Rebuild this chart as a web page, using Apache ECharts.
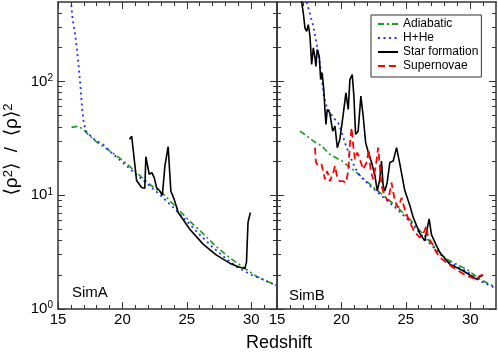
<!DOCTYPE html>
<html>
<head>
<meta charset="utf-8">
<script src="https://cdn.jsdelivr.net/npm/echarts@6/dist/echarts.min.js"></script>
<style>
  html, body { margin: 0; padding: 0; background: #fff; }
  #chart { width: 498px; height: 354px; }
</style>
</head>
<body>
<div id="chart"></div>
<script>
// axis ranges and ticks
const xMin = 15, xMax = 32
const yMin = 1, yMax = 500
const xMajor = [15, 20, 25, 30]
const xMinor = [16, 17, 18, 19, 21, 22, 23, 24, 26, 27, 28, 29, 31]
const yMajor = [1, 10, 100]
const yMinor = [2, 3, 4, 5, 6, 7, 8, 9, 20, 30, 40, 50, 60, 70, 80, 90, 200, 300, 400]

// SimA
const adiaAz = [16.05, 16.6, 17.1, 17.35, 18.0, 19.0, 20.1, 21.1, 22.1, 23.2, 24.2, 25.2, 26.3, 27.3, 28.3, 29.4, 30.4, 31.0, 32.0]
const adiaAv = [39.5, 40.5, 36.6, 34.2, 29.4, 24.6, 20.0, 15.8, 12.5, 10.2, 7.8, 5.95, 4.55, 3.52, 2.84, 2.32, 1.94, 1.8, 1.6]
const hheAz = [16.03, 16.14, 16.32, 16.5, 16.65, 16.76, 16.88, 17.0, 17.17, 17.6, 18.0, 18.5, 19.0, 20.0, 21.0, 22.0, 23.0, 24.0, 25.0, 26.0, 27.0, 28.0, 29.0, 30.0, 31.0, 32.0]
const hheAv = [470, 350, 267, 179, 119, 85, 56.8, 43.4, 36.6, 32.5, 30, 28, 24.5, 19.5, 15.5, 12.4, 9.9, 7.7, 5.9, 4.5, 3.5, 2.8, 2.3, 2.0, 1.8, 1.6]
const starAz = [20.55, 20.72, 21.1, 21.49, 21.74, 21.82, 22.08, 22.29, 22.47, 22.65, 22.9, 23.1, 23.3, 23.55, 23.76, 24.02, 24.33, 25.23, 26.26, 27.3, 28.33, 28.98, 29.5, 29.63, 29.75, 29.93]
const starAv = [31, 33, 13.5, 11.7, 11.5, 21.8, 15.3, 15.8, 14.3, 11.7, 10.9, 10, 18.1, 26.7, 10.9, 9.2, 7.05, 5.03, 3.72, 2.98, 2.53, 2.35, 2.27, 2.57, 5.76, 7.05]

// SimB
const adiaBz = [16.78, 17.2, 17.81, 18.47, 19.1, 20.1, 21.18, 22.21, 23.24, 24.28, 25.31, 26.34, 27.38, 28.15, 29.7, 30.74, 32.0]
const adiaBv = [36.6, 34, 30, 27.1, 22.9, 19.8, 15.8, 12.5, 10, 7.95, 6.16, 4.55, 3.36, 2.75, 2.24, 1.83, 1.55]
const hheBz = [17.3, 17.82, 18.2, 18.46, 18.64, 18.85, 19.37, 19.75, 20.0, 20.27, 20.66, 21.05, 21.43, 22.2, 23.2, 24.3, 25.3, 26.3, 27.4, 28.2, 29.7, 30.7, 32.0]
const hheBv = [500, 306, 179, 112, 74, 60.7, 48, 43.4, 36.6, 29, 22.2, 17.5, 14.8, 12.2, 9.7, 7.6, 5.9, 4.35, 3.25, 2.65, 2.15, 1.78, 1.52]
const starBz = [16.85, 17.04, 17.17, 17.3, 17.43, 17.56, 17.69, 17.82, 17.95, 18.02, 18.12, 18.28, 18.39, 18.51, 18.64, 18.72, 18.8, 18.9, 19.1, 19.32, 19.5, 19.68, 19.88, 20.14, 20.35, 20.53, 20.66, 20.84, 20.97, 21.1, 21.3, 21.51, 21.69, 21.88, 22.08, 22.34, 22.6, 22.78, 22.98, 23.11, 23.24, 23.37, 23.55, 23.76, 24.02, 24.28, 24.53, 24.92, 25.3, 25.57, 26.09, 26.47, 26.6, 26.81, 26.99, 27.38, 27.64, 28.41, 29.44, 30.48, 30.68, 30.99]
const starBv = [560, 401, 296, 276, 316, 250, 141, 198, 161, 136, 191, 167, 104, 119, 82, 56.8, 42, 56.8, 53, 36.6, 40.5, 26.2, 31, 51.4, 79.6, 56.8, 104, 115, 74.3, 34.3, 36.6, 74.3, 49.6, 29, 24, 19.4, 15, 10.9, 13.8, 20, 12.1, 10.9, 12.9, 19.4, 20, 26.2, 19, 11, 8.2, 6.4, 4.6, 3.97, 3.85, 6.2, 4.5, 3.6, 3.14, 2.48, 2.17, 1.83, 1.9, 1.99]
const snBz = [17.95, 18.02, 18.2, 18.46, 18.72, 18.9, 19.1, 19.37, 19.5, 19.68, 19.88, 20.14, 20.35, 20.53, 20.66, 20.79, 20.92, 21.05, 21.23, 21.43, 21.69, 21.95, 22.13, 22.26, 22.46, 22.67, 22.85, 22.98, 23.11, 23.37, 23.63, 23.89, 24.15, 24.41, 24.67, 24.92, 25.31, 25.7, 26.09, 26.34, 26.6, 26.73, 26.99, 27.38, 27.64, 28.67, 29.7, 30.48, 30.74, 30.99]
const snBv = [26.2, 19.4, 18.1, 18.7, 13.8, 16.3, 13.3, 15.8, 18.1, 14.3, 13.3, 13.3, 12.9, 16.3, 28, 39.2, 27.1, 20.7, 23.7, 20.7, 16.9, 19.4, 25.3, 16.9, 13.8, 18.1, 26.2, 18.1, 12.1, 9.8, 8.9, 12.9, 8.9, 7.8, 9.5, 7.5, 5.76, 4.71, 4.25, 4.55, 5.38, 4.25, 3.85, 3.14, 2.84, 2.32, 1.96, 1.83, 1.96, 2.0]

const names = ['Adiabatic', 'H+He', 'Star formation', 'Supernovae']
const FONT = '"Liberation Sans", Arial, "DejaVu Sans", sans-serif'
const frame = '#333'

const zip = (a, b) => a.map((v, i) => [v, b[i]])

const styles = {
  'Adiabatic': { color: '#1a9a1a', type: [6, 3, 2, 3], width: 1.6 },
  'H+He': { color: '#2233ff', type: [2, 3.5], width: 1.8 },
  'Star formation': { color: '#000000', type: 'solid', width: 1.6 },
  'Supernovae': { color: '#ff0000', type: [7, 4], width: 1.8 }
}

const pow10Label = (v) => {
  const e = Math.round(Math.log10(v))
  if (Math.abs(Math.pow(10, e) - v) > 1e-6) return ''
  return '{b|10}{s|' + e + '}'
}

const chart = echarts.init(document.getElementById('chart'))

const grids = [
  { left: 58, top: 2, width: 219, height: 307, outerBoundsMode: 'none' },
  { left: 277, top: 2, width: 219, height: 307, outerBoundsMode: 'none' }
]

const xAxes = []
const yAxes = []
grids.forEach((g, gi) => {
  ;['bottom', 'top'].forEach(pos => {
    xAxes.push({
      gridIndex: gi, type: 'value', min: xMin, max: xMax, position: pos,
      axisLine: { show: true, onZero: false, lineStyle: { color: frame, width: 1.5 } },
      axisTick: { show: true, inside: true, length: 7, customValues: xMajor, lineStyle: { color: frame, width: 1 } },
      axisLabel: {
        show: pos === 'bottom', customValues: xMajor, margin: 3,
        color: '#000', fontSize: 15, fontFamily: FONT
      },
      splitLine: { show: false }
    })
    xAxes.push({
      gridIndex: gi, type: 'value', min: xMin, max: xMax, position: pos,
      axisLine: { show: false, onZero: false },
      axisTick: { show: true, inside: true, length: 4, customValues: xMinor, lineStyle: { color: frame, width: 1 } },
      axisLabel: { show: false },
      splitLine: { show: false }
    })
  })
  ;['left', 'right'].forEach(pos => {
    const major = {
      gridIndex: gi, type: 'log', logBase: 10, min: yMin, max: yMax, position: pos,
      axisLine: { show: true, onZero: false, lineStyle: { color: frame, width: 1.5 } },
      axisTick: { show: true, inside: true, length: 7, customValues: yMajor, lineStyle: { color: frame, width: 1 } },
      axisLabel: {
        show: gi === 0 && pos === 'left', customValues: yMajor, margin: 5,
        formatter: pow10Label,
        rich: {
          b: { fontSize: 15, fontFamily: FONT, color: '#000', lineHeight: 17 },
          s: { fontSize: 10, fontFamily: FONT, color: '#000', verticalAlign: 'top', lineHeight: 11 }
        }
      },
      splitLine: { show: false }
    }
    if (gi === 0 && pos === 'left') {
      major.name = '⟨ρ{s|2}⟩  /  ⟨ρ⟩{s|2}'
      major.nameLocation = 'middle'
      major.nameGap = 37
      major.nameRotate = 90
      major.nameTextStyle = {
        fontSize: 19, fontFamily: FONT, color: '#000',
        padding: [0, 0, 0, 12],
        rich: {
          s: { fontSize: 13, fontFamily: FONT, color: '#000', verticalAlign: 'top', lineHeight: 13 }
        }
      }
    }
    yAxes.push(major)
    yAxes.push({
      gridIndex: gi, type: 'log', logBase: 10, min: yMin, max: yMax, position: pos,
      axisLine: { show: false, onZero: false },
      axisTick: { show: true, inside: true, length: 4, customValues: yMinor, lineStyle: { color: frame, width: 1 } },
      axisLabel: { show: false },
      splitLine: { show: false }
    })
  })
})

const mkSeries = (name, gi, zs, vs) => ({
  name, type: 'line', xAxisIndex: gi * 4, yAxisIndex: gi * 4,
  data: zip(zs, vs), showSymbol: false, symbol: 'none', clip: true,
  animation: false,
  itemStyle: { color: styles[name].color },
  lineStyle: { color: styles[name].color, type: styles[name].type, width: styles[name].width, cap: 'butt' }
})

const option = {
  backgroundColor: '#fff',
  animation: false,
  grid: grids,
  xAxis: xAxes,
  yAxis: yAxes,
  legend: {
    data: names, orient: 'vertical', left: 371, top: 15,
    padding: [2, 3, 4, 6], itemGap: 0, itemWidth: 20, itemHeight: 14,
    borderColor: frame, borderWidth: 1, backgroundColor: '#fff',
    itemStyle: { opacity: 0 },
    textStyle: { fontSize: 12, fontFamily: FONT, color: '#000', lineHeight: 14 }
  },
  graphic: [
    { type: 'text', x: 279, y: 343, style: { text: 'Redshift', font: '18px ' + FONT, fill: '#000', textAlign: 'center', textVerticalAlign: 'middle', align: 'center', verticalAlign: 'middle' } },
    { type: 'text', x: 72, y: 293, style: { text: 'SimA', font: '15px ' + FONT, fill: '#000', textAlign: 'left', textVerticalAlign: 'middle', align: 'left', verticalAlign: 'middle' } },
    { type: 'text', x: 289, y: 296, style: { text: 'SimB', font: '15px ' + FONT, fill: '#000', textAlign: 'left', textVerticalAlign: 'middle', align: 'left', verticalAlign: 'middle' } }
  ],
  series: [
    mkSeries('Adiabatic', 0, adiaAz, adiaAv),
    mkSeries('H+He', 0, hheAz, hheAv),
    mkSeries('Star formation', 0, starAz, starAv),
    mkSeries('Adiabatic', 1, adiaBz, adiaBv),
    mkSeries('H+He', 1, hheBz, hheBv),
    mkSeries('Star formation', 1, starBz, starBv),
    mkSeries('Supernovae', 1, snBz, snBv)
  ]
}

chart.setOption(option)
window.addEventListener('resize', () => chart.resize())
</script>
</body>
</html>
